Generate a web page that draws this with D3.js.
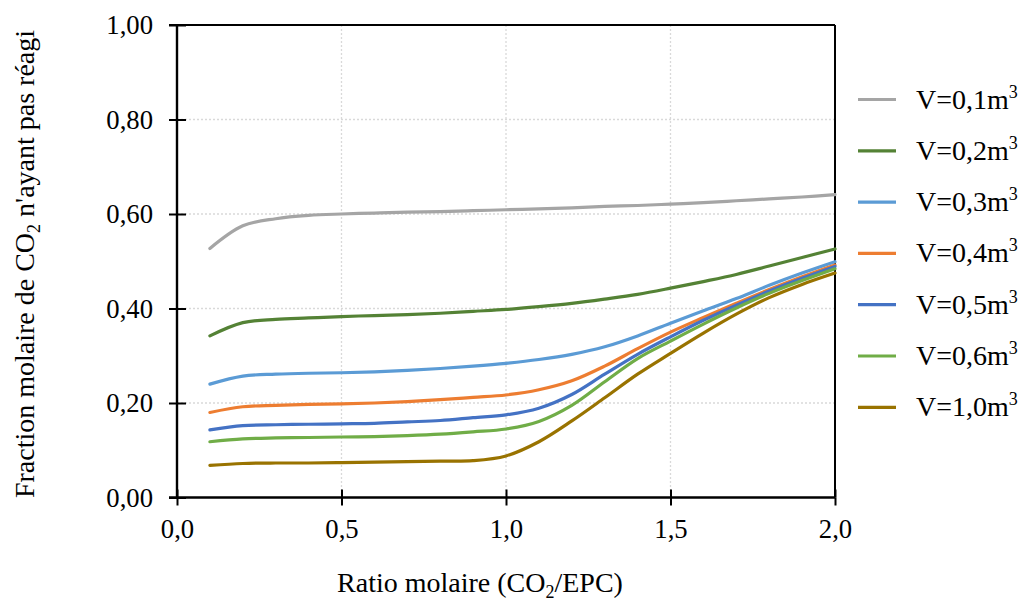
<!DOCTYPE html>
<html><head><meta charset="utf-8">
<script src="https://cdn.jsdelivr.net/npm/d3@7"></script>
<style>body{margin:0;background:#fff}svg{display:block}text{font-family:"Liberation Serif","Times New Roman",serif;fill:#000}</style>
</head><body><svg id="c" width="1026" height="604"></svg>
<script>
const ratios = [0.1,0.2,0.3,0.4,0.5,0.6,0.7,0.8,0.9,1.0,1.1,1.2,1.3,1.4,1.5,1.6,1.7,1.8,1.9,2.0];
const v01 = [0.527,0.575,0.590,0.597,0.600,0.602,0.604,0.605,0.607,0.609,0.611,0.613,0.616,0.618,0.621,0.624,0.628,0.632,0.636,0.641];
const v02 = [0.342,0.370,0.377,0.380,0.383,0.385,0.387,0.390,0.394,0.398,0.404,0.411,0.420,0.430,0.443,0.457,0.472,0.490,0.508,0.526];
const v03 = [0.240,0.257,0.261,0.263,0.264,0.266,0.269,0.273,0.278,0.284,0.292,0.303,0.319,0.342,0.369,0.395,0.421,0.449,0.475,0.499];
const v04 = [0.180,0.192,0.195,0.197,0.198,0.200,0.203,0.207,0.212,0.217,0.228,0.247,0.278,0.315,0.350,0.381,0.411,0.440,0.467,0.492];
const v05 = [0.143,0.152,0.154,0.155,0.156,0.157,0.160,0.163,0.169,0.175,0.189,0.218,0.261,0.303,0.340,0.375,0.407,0.437,0.464,0.489];
const v06 = [0.118,0.124,0.126,0.127,0.128,0.129,0.131,0.134,0.139,0.145,0.161,0.195,0.245,0.294,0.331,0.367,0.401,0.432,0.459,0.484];
const v10 = [0.068,0.072,0.073,0.073,0.074,0.075,0.076,0.077,0.078,0.088,0.118,0.162,0.211,0.261,0.305,0.348,0.388,0.423,0.451,0.475];
const seriesNames = ["V=0,1m","V=0,2m","V=0,3m","V=0,4m","V=0,5m","V=0,6m","V=1,0m"];
const seriesColors = ["#A5A5A5","#548235","#5B9BD5","#ED7D31","#4472C4","#70AD47","#997300"];
const xTicks = [0,0.5,1.0,1.5,2.0];
const yTicks = [0,0.2,0.4,0.6,0.8,1.0];
const allSeries = [v01,v02,v03,v04,v05,v06,v10];

const svg = d3.select("#c");
const L=177, R=835, T=25, B=497.5;
const x = d3.scaleLinear().domain([0,2]).range([L,R]);
const y = d3.scaleLinear().domain([0,1]).range([B,T]);
const fmtY = v => d3.format(".2f")(v).replace(".",",");
const fmtX = v => d3.format(".1f")(v).replace(".",",");

// grid
const g = svg.append("g");
g.selectAll("line.h").data(yTicks.filter(v=>v>0&&v<1)).join("line")
 .attr("x1",L).attr("x2",R).attr("y1",d=>y(d)).attr("y2",d=>y(d))
 .attr("stroke","#D9D9D9").attr("stroke-width",1.3).attr("stroke-dasharray","2,2");
g.selectAll("line.v").data(xTicks.filter(v=>v>0&&v<2)).join("line")
 .attr("y1",T).attr("y2",B).attr("x1",d=>x(d)).attr("x2",d=>x(d))
 .attr("stroke","#D9D9D9").attr("stroke-width",1.3).attr("stroke-dasharray","2,2");

// frame top/right
svg.append("line").attr("x1",L).attr("x2",R).attr("y1",T).attr("y2",T).attr("stroke","#000").attr("stroke-width",2);
svg.append("line").attr("x1",R).attr("x2",R).attr("y1",T).attr("y2",B).attr("stroke","#000").attr("stroke-width",2);

// lines
const line = d3.line().x((d,i)=>x(ratios[i])).y(d=>y(d)).curve(d3.curveCatmullRom.alpha(0.5));
svg.append("g").selectAll("path").data(allSeries).join("path")
 .attr("d",line).attr("fill","none").attr("stroke",(d,i)=>seriesColors[i])
 .attr("stroke-width",3.2).attr("stroke-linecap","round").attr("stroke-linejoin","round");

// axes
const yAx = svg.append("g").attr("transform",`translate(${L},0)`)
 .call(d3.axisLeft(y).tickValues(yTicks).tickFormat(fmtY).tickSize(8).tickPadding(4));
yAx.selectAll(".tick line").clone().attr("x2",9);
const xAx = svg.append("g").attr("transform",`translate(0,${B})`)
 .call(d3.axisBottom(x).tickValues(xTicks).tickFormat(fmtX).tickSize(8).tickPadding(14));
xAx.selectAll(".tick line").clone().attr("y2",-8);
svg.selectAll(".domain").attr("stroke","#000").attr("stroke-width",2.4);
svg.selectAll(".tick line").attr("stroke","#000").attr("stroke-width",2);
svg.selectAll(".tick text").style("font-family","Liberation Serif").style("font-size","26.7px").attr("fill","#000");
yAx.selectAll(".tick text").attr("x",-24);
xAx.select(".domain").attr("d",`M${L-8},0H${R}`);
yAx.select(".domain").attr("d",`M0,${B}V${T}`);
svg.append("line").attr("x1",L-8).attr("x2",L).attr("y1",T).attr("y2",T).attr("stroke","#000").attr("stroke-width",2);

// axis titles
const xt = svg.append("text").attr("x",480).attr("y",592).attr("text-anchor","middle").style("font-size","28px");
xt.append("tspan").text("Ratio molaire (CO");
xt.append("tspan").text("2").style("font-size","18px").attr("dy",6);
xt.append("tspan").text("/EPC)").attr("dy",-6);

const yt = svg.append("text").attr("transform","translate(34,264) rotate(-90)").attr("text-anchor","middle").style("font-size","28px");
yt.append("tspan").text("Fraction molaire de CO");
yt.append("tspan").text("2").style("font-size","18px").attr("dy",6);
yt.append("tspan").text(" n'ayant pas réagi").attr("dy",-6);

// legend
const lg = svg.append("g");
seriesNames.forEach((n,i)=>{
  const yy = 99.5 + i*51.3;
  lg.append("line").attr("x1",858).attr("x2",896).attr("y1",yy).attr("y2",yy).attr("stroke",seriesColors[i]).attr("stroke-width",3.2);
  const t = lg.append("text").attr("x",916).attr("y",yy+9).style("font-size","28px");
  t.append("tspan").text(n);
  t.append("tspan").text("3").style("font-size","18px").attr("dy",-11);
});
</script></body></html>
